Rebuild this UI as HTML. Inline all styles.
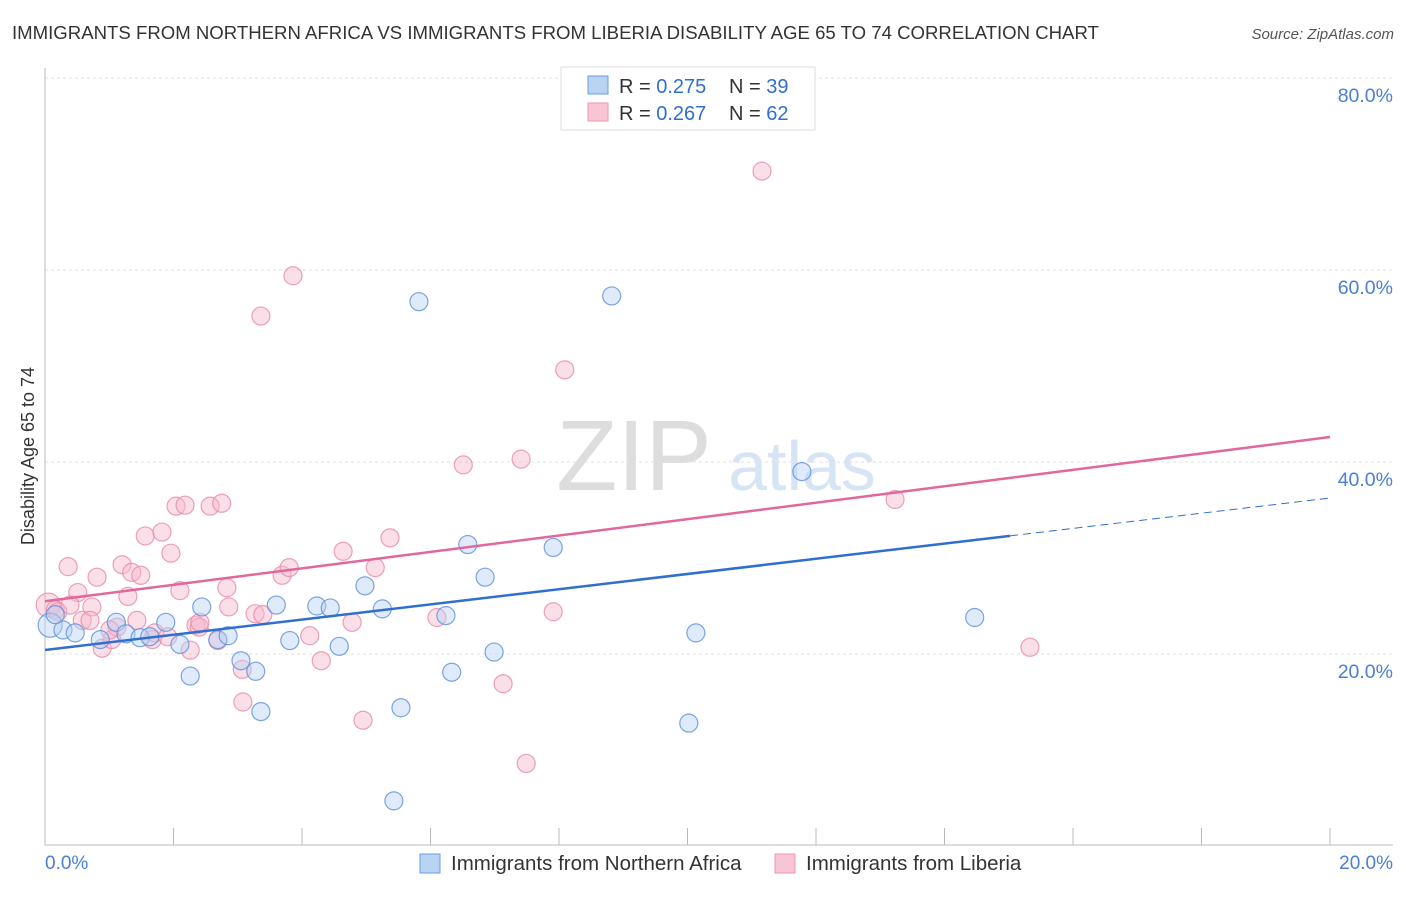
<!DOCTYPE html>
<html><head><meta charset="utf-8"><style>
body{margin:0;background:#fff;font-family:"Liberation Sans",sans-serif}
svg text{font-family:"Liberation Sans",sans-serif}
</style></head><body>
<svg id="c" width="1406" height="892">
<text x="12" y="39" font-size="18.6" fill="#333">IMMIGRANTS FROM NORTHERN AFRICA VS IMMIGRANTS FROM LIBERIA DISABILITY AGE 65 TO 74 CORRELATION CHART</text>
<text x="1394" y="39" font-size="15" fill="#555" font-style="italic" text-anchor="end">Source: ZipAtlas.com</text>
<text x="634" y="490" font-size="100" fill="#ddd" font-family="Liberation Serif" text-anchor="middle">ZIP</text>
<text x="802" y="490" font-size="70" fill="#d6e4f5" text-anchor="middle">atlas</text>
<g id="grid"></g><g id="axes"></g><g id="pts"></g><g id="lines"></g>
<text transform="translate(34,456) rotate(-90)" font-size="18" fill="#333" text-anchor="middle">Disability Age 65 to 74</text>
<text x="45" y="869" font-size="19" fill="#4a7fd4">0.0%</text>
<text x="1393" y="869" font-size="19" fill="#4a7fd4" text-anchor="end">20.0%</text>
<g>
<rect x="561" y="67" width="254" height="63" fill="#fff" stroke="#ddd"/>
<rect x="588" y="76" width="20" height="18" fill="#b9d3f3" stroke="#6a9be0"/>
<rect x="588" y="103" width="20" height="18" fill="#f9c5d5" stroke="#ec97b2"/>
<text x="619" y="93" font-size="20" fill="#333">R = <tspan fill="#2f6fd0">0.275</tspan></text>
<text x="729" y="93" font-size="20" fill="#333">N = <tspan fill="#2f6fd0">39</tspan></text>
<text x="619" y="120" font-size="20" fill="#333">R = <tspan fill="#2f6fd0">0.267</tspan></text>
<text x="729" y="120" font-size="20" fill="#333">N = <tspan fill="#2f6fd0">62</tspan></text>
</g>
<g>
<rect x="420" y="854" width="20" height="19" fill="#b9d3f3" stroke="#6a9be0"/>
<text x="451" y="870" font-size="20.5" fill="#333">Immigrants from Northern Africa</text>
<rect x="775" y="854" width="20" height="19" fill="#f9c5d5" stroke="#ec97b2"/>
<text x="806" y="870" font-size="20.5" fill="#333">Immigrants from Liberia</text>
</g>
</svg>
<script>
const blueX=[0.08,0.28,0.47,0.86,1.11,1.26,1.48,1.63,1.88,2.10,2.26,2.44,2.69,2.85,3.05,3.28,3.36,3.60,3.81,4.23,4.44,4.58,4.98,5.25,5.54,5.43,5.82,6.24,6.33,6.58,6.85,6.99,7.91,8.82,10.02,10.13,11.78,14.47,0.16];
const blueY=[23.0,22.5,22.2,21.5,23.3,22.1,21.7,21.8,23.3,21.0,17.7,24.9,21.5,21.9,19.3,18.2,14.0,25.1,21.4,25.0,24.8,20.8,27.1,24.7,14.4,4.7,56.7,24.0,18.1,31.4,28.0,20.2,31.1,57.3,12.8,22.2,39.0,23.8,24.1];
const pinkX=[0.05,0.16,0.20,0.36,0.51,0.58,0.73,0.81,0.89,1.04,1.12,1.20,1.29,1.35,1.43,1.49,1.56,1.67,1.71,1.82,1.91,1.96,2.10,2.04,2.18,2.26,2.35,2.40,2.57,2.75,2.69,2.83,2.86,3.07,3.08,3.27,3.36,3.39,3.69,3.80,3.86,4.12,4.30,4.64,4.78,4.95,5.14,5.37,6.10,6.51,7.13,7.41,7.49,7.91,8.09,11.16,13.23,15.33,0.39,1.01,2.41,0.70];
const pinkY=[25.1,24.6,24.4,29.1,26.4,23.5,24.9,28.0,20.6,21.5,22.8,29.3,26.0,28.5,23.5,28.2,32.3,21.5,22.2,32.7,21.8,30.5,26.6,35.4,35.5,20.4,23.0,22.8,35.4,35.7,21.4,26.9,24.9,18.4,15.0,24.2,55.2,24.1,28.2,29.0,59.4,21.9,19.3,30.7,23.3,13.1,29.0,32.1,23.8,39.7,16.9,40.3,8.6,24.4,49.6,70.3,36.1,20.7,25.1,22.5,23.3,23.5];
const yTicks=[20,40,60,80];
const yTickLabels=["20.0%","40.0%","60.0%","80.0%"];
const xTicks=[0,2,4,6,8,10,12,14,16,18,20];
const blueLine=[20.42,36.25], pinkLine=[25.5,42.6], blueSolidEnd=15.02;
const NS="http://www.w3.org/2000/svg";
const sx=v=>45+v/20*1285, sy=v=>846-v/20*192;
function mk(t,a,p){const e=document.createElementNS(NS,t);for(const k in a)e.setAttribute(k,a[k]);p.appendChild(e);return e;}
const grid=document.getElementById('grid'),axes=document.getElementById('axes'),pts=document.getElementById('pts'),lines=document.getElementById('lines');
yTicks.forEach((v,i)=>{
 const l=mk('line',{x1:45,x2:1393,y1:sy(v),y2:sy(v),stroke:'#e2e2e2','stroke-dasharray':'3,3'},grid);
 
 
 const t=mk('text',{x:1393,y:sy(v)+24,'font-size':19.5,fill:'#4a7fd4','text-anchor':'end'},grid);
 t.textContent=yTickLabels[i];
 
 
});
const ax=mk('path',{d:'M45,68V845H1393',stroke:'#bbb',fill:'none'},axes);


xTicks.forEach(v=>{
 const t=mk('line',{x1:sx(v),x2:sx(v),y1:845,y2:828,stroke:'#bbb'},axes);
 
 
});
function dots(X,Y,fill,stroke,name){X.forEach((x,i)=>{
 const c=mk('circle',{cx:sx(x),cy:sy(Y[i]),r:i==0?12:9,fill:fill,'fill-opacity':0.45,stroke:stroke,'stroke-width':1.2,'stroke-opacity':0.8},pts);
 
 
});}
dots(pinkX,pinkY,'#f7b8cb','#e88aa8','liberia-point');
dots(blueX,blueY,'#b9d3f3','#5b8fdc','northern-africa-point');
const f=(L,x)=>L[0]+(L[1]-L[0])*x/20;
const pl=mk('line',{x1:sx(0),y1:sy(f(pinkLine,0)),x2:sx(20),y2:sy(f(pinkLine,20)),stroke:'#e2679a','stroke-width':2.5},lines);


const bl=mk('line',{x1:sx(0),y1:sy(f(blueLine,0)),x2:sx(blueSolidEnd),y2:sy(f(blueLine,blueSolidEnd)),stroke:'#2f6fd0','stroke-width':2.5},lines);


const bd=mk('line',{x1:sx(blueSolidEnd),y1:sy(f(blueLine,blueSolidEnd)),x2:sx(20),y2:sy(f(blueLine,20)),stroke:'#2f6fd0','stroke-width':1,'stroke-dasharray':'8,5'},lines);


</script>
</body></html>
